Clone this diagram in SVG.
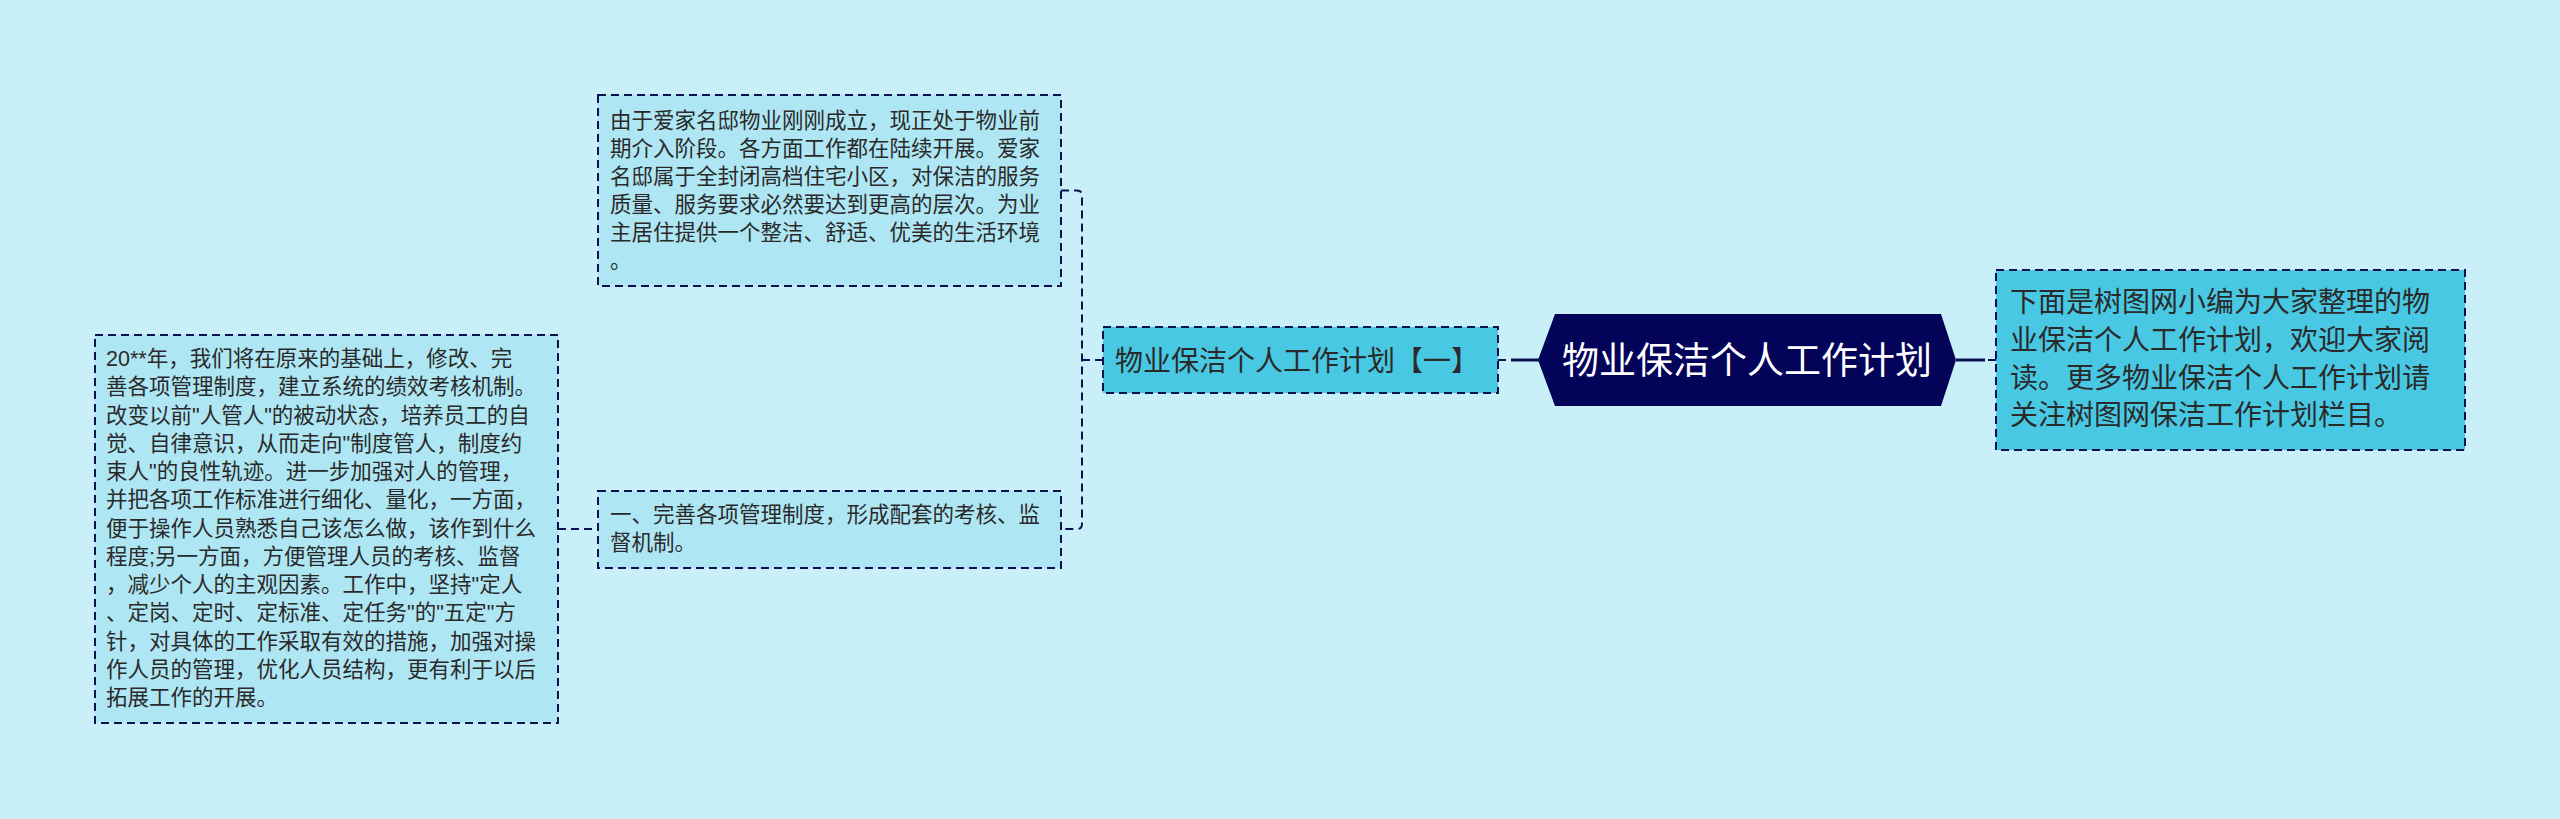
<svg xmlns="http://www.w3.org/2000/svg" width="2560" height="819" viewBox="0 0 2560 819">
<style>
.bg{fill:#c9f0f8}
.leaf{fill:#afe6f3;stroke:#0b1150;stroke-width:2;stroke-dasharray:8 5}
.sub{fill:#48c8e3;stroke:#0b1150;stroke-width:2;stroke-dasharray:8 5}
.t{font-family:'Liberation Sans','Noto Sans CJK SC',sans-serif;fill:#2a2a2a}
.s{font-size:21.5px}
.m{font-size:28px}
.c{font-family:'Liberation Sans','Noto Sans CJK SC',sans-serif;font-size:37px;fill:#ffffff}
.dash{fill:none;stroke:#0b1150;stroke-width:2;stroke-dasharray:8 5}
.solid{fill:none;stroke:#0b1150;stroke-width:3}
</style>
<rect class="bg" x="0" y="0" width="2560" height="819"/>
<g id="connectors">
<path class="dash" d="M1061,190.5 H1077 Q1082,190.5 1082,195.5 V524 Q1082,529 1077,529 H1061"/>
<path class="dash" d="M1082,360 H1103"/>
<path class="dash" d="M558,529 H598"/>
<path class="dash" d="M1498,360 H1507"/>
<path class="solid" d="M1511,360 H1540"/>
<path class="solid" d="M1956,360 H1985"/>
<path class="dash" d="M1988,360 H1996"/>
</g>
<g id="node-top">
<rect class="leaf" x="598" y="95" width="463" height="191"/>
<text class="t s" x="610"><tspan x="610" y="128">由于爱家名邸物业刚刚成立，现正处于物业前</tspan><tspan x="610" y="156">期介入阶段。各方面工作都在陆续开展。爱家</tspan><tspan x="610" y="184">名邸属于全封闭高档住宅小区，对保洁的服务</tspan><tspan x="610" y="212">质量、服务要求必然要达到更高的层次。为业</tspan><tspan x="610" y="240">主居住提供一个整洁、舒适、优美的生活环境</tspan><tspan x="610" y="268">。</tspan></text>
</g>
<g id="node-left">
<rect class="leaf" x="95" y="335" width="463" height="388"/>
<text class="t s"><tspan x="106" y="366">20**年，我们将在原来的基础上，修改、完</tspan><tspan x="106" y="394.25">善各项管理制度，建立系统的绩效考核机制。</tspan><tspan x="106" y="422.5">改变以前"人管人"的被动状态，培养员工的自</tspan><tspan x="106" y="450.75">觉、自律意识，从而走向"制度管人，制度约</tspan><tspan x="106" y="479">束人"的良性轨迹。进一步加强对人的管理，</tspan><tspan x="106" y="507.25">并把各项工作标准进行细化、量化，一方面，</tspan><tspan x="106" y="535.5">便于操作人员熟悉自己该怎么做，该作到什么</tspan><tspan x="106" y="563.75">程度;另一方面，方便管理人员的考核、监督</tspan><tspan x="106" y="592">，减少个人的主观因素。工作中，坚持"定人</tspan><tspan x="106" y="620.25">、定岗、定时、定标准、定任务"的"五定"方</tspan><tspan x="106" y="648.5">针，对具体的工作采取有效的措施，加强对操</tspan><tspan x="106" y="676.75">作人员的管理，优化人员结构，更有利于以后</tspan><tspan x="106" y="705">拓展工作的开展。</tspan></text>
</g>
<g id="node-mid">
<rect class="leaf" x="598" y="491" width="463" height="77"/>
<text class="t s"><tspan x="610" y="522">一、完善各项管理制度，形成配套的考核、监</tspan><tspan x="610" y="550">督机制。</tspan></text>
</g>
<g id="node-sub">
<rect class="sub" x="1103" y="327" width="395" height="66"/>
<text class="t m" x="1115" y="371">物业保洁个人工作计划【一】</text>
</g>
<g id="node-center">
<polygon points="1538,360 1555,314 1941,314 1956,360 1941,406 1555,406" fill="#03035a"/>
<text class="c" x="1747" y="374" text-anchor="middle">物业保洁个人工作计划</text>
</g>
<g id="node-right">
<rect class="sub" x="1996" y="270" width="469" height="180"/>
<text class="t m"><tspan x="2010" y="312">下面是树图网小编为大家整理的物</tspan><tspan x="2010" y="350">业保洁个人工作计划，欢迎大家阅</tspan><tspan x="2010" y="387.5">读。更多物业保洁个人工作计划请</tspan><tspan x="2010" y="425">关注树图网保洁工作计划栏目。</tspan></text>
</g>
</svg>
